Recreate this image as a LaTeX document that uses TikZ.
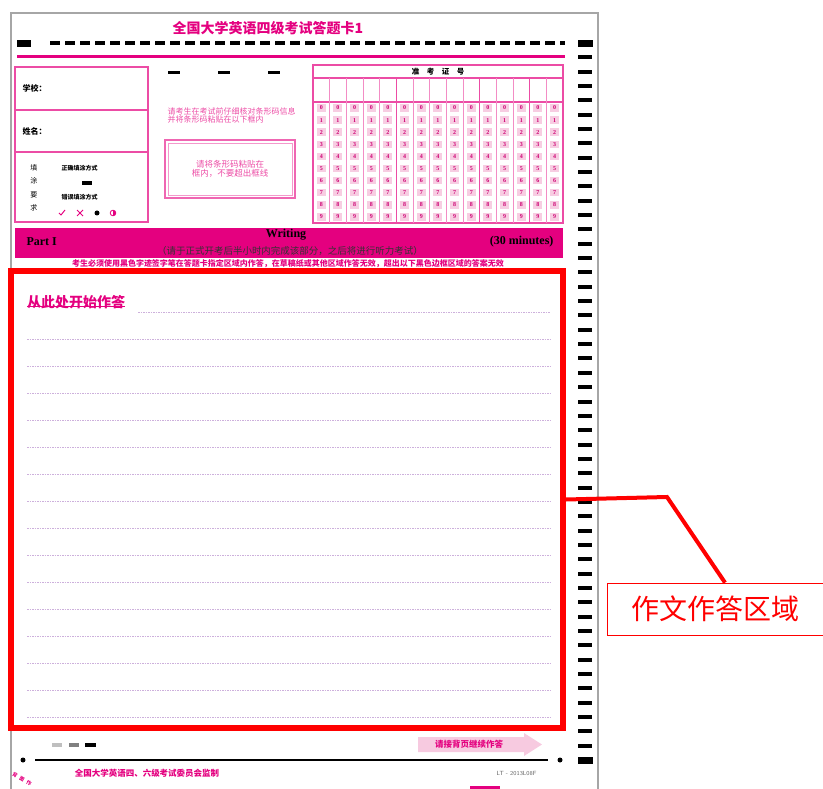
\documentclass[tikz,border=0pt]{standalone}
\usepackage{fontspec}
\setmainfont{Liberation Serif}
\newfontfamily\cjk{Noto Sans CJK SC}
\usetikzlibrary{positioning}
\definecolor{cetpink}{HTML}{E4007F}
\definecolor{lightpink}{HTML}{F4B8D6}
\definecolor{linelilac}{HTML}{CDB0DC}
\definecolor{markred}{HTML}{FF0000}
\tikzset{
  pinkbox/.style={draw=cetpink!70, line width=1.2pt},
  cjktext/.style={font=\cjk\fontsize{#1}{#1}\selectfont},
  bubble/.style={fill=lightpink!70, inner sep=0pt, minimum width=9pt, minimum height=7.5pt,
    text=cetpink!90!black, font=\fontsize{6}{6}\selectfont\bfseries},
  writeline/.style={linelilac, line width=0.8pt, dash pattern=on 1.5pt off 1pt},
}
\begin{document}
\begin{tikzpicture}[x=1pt,y=-1pt]
    \useasboundingbox (0,0) rectangle (823,789);
    % sheet
    \draw[gray!70, line width=2pt] (11,789) -- (11,13) -- (598,13) -- (598,789);
    \node[cjktext=14, text=cetpink] (title) at (268,28) {\bfseries 全国大学英语四级考试答题卡1};
    \fill (17,40) rectangle (31,47);
    \draw[line width=4pt, dash pattern=on 10pt off 5pt] (50,43) -- (565,43);
    \draw[cetpink, line width=3pt] (17,57) -- (565,57);
    % timing marks
    \fill (578,40) rectangle (593,47);
    \foreach \i in {1,...,49}
        \fill (578,{43+\i*14.34-2}) rectangle (592,{43+\i*14.34+2});
    \fill (578,757) rectangle (593,764);

    % school / name box
    \draw[pinkbox] (15,67) rectangle (148,222);
    \draw[pinkbox] (15,110) -- (148,110) (15,152) -- (148,152);
    \node[cjktext=8, anchor=west] (school) at (19,88) {\bfseries 学校：};
    \node[cjktext=8, anchor=west] (name) at (19,131) {\bfseries 姓名：};
    \foreach \ch [count=\k] in {填,涂,要,求}
        \node[cjktext=7] (req\k) at (34,{154+\k*13.5}) {\ch};
    \node[cjktext=6, anchor=west] (good) at (58,168) {\bfseries 正确填涂方式};
    \fill (82,181) rectangle (92,185);
    \node[cjktext=6, anchor=west] (bad) at (58,197) {\bfseries 错误填涂方式};
    \draw[cetpink, line width=1pt] (59,213) -- (61,215) -- (65,210);
    \draw[cetpink, line width=1pt] (77,210) -- (83,216) (77,216) -- (83,210);
    \fill (97,213) circle (2.5pt);
    \draw[cetpink, line width=0.8pt] (113,213) circle (2.8pt);
    \fill[cetpink] (113,210.2) arc (90:-90:2.8pt) -- cycle;

    % barcode area
    \foreach \x in {168,218,268}
        \draw[line width=3pt] (\x,73) -- ++(12,0);
    \node[cjktext=8, text=cetpink!70, anchor=west, align=left] (hint) at (164,115)
        {请考生在考试前仔细核对条形码信息\\并将条形码粘贴在以下框内};
    \draw[cetpink!60, line width=1.5pt] (165,140) rectangle (295,198);
    \draw[cetpink!40, line width=0.6pt] (168,143) rectangle (292,195);
    \node[cjktext=8.5, text=cetpink!70, align=center] (barcode) at (230,169)
        {请将条形码粘贴在\\框内，不要超出框线};

    % admission number grid
    \draw[pinkbox] (313,65) rectangle (563,223);
    \draw[pinkbox] (313,78) -- (563,78) (313,102) -- (563,102);
    \node[cjktext=7.5] (ticket) at (438,71.5) {\bfseries 准\quad 考\quad 证\quad 号};
    \foreach \c in {1,...,14}
        \draw[cetpink!45, line width=0.5pt] ({313+\c*16.667},78) -- ({313+\c*16.667},223);
    \foreach \c in {5,10,13}
        \draw[cetpink!70, line width=1.2pt] ({313+\c*16.667},78) -- ({313+\c*16.667},223);
    \foreach \c in {0,...,14}
        \foreach \r in {0,...,9}
            \node[bubble] (b\c-\r) at ({321.3+\c*16.667},{108+\r*12.1}) {\r};

    % Part I bar
    \fill[cetpink] (15,228) rectangle (563,258);
    \node[anchor=west, font=\bfseries\fontsize{12}{12}\selectfont] (part) at (23,242) {Part I};
    \node[font=\bfseries\fontsize{12}{12}\selectfont] (writing) at (286,235) {Writing};
    \node[cjktext=9.5, text=black!80] (note) at (290,250.5)
        {（请于正式开考后半小时内完成该部分，之后将进行听力考试）};
    \node[anchor=east, font=\bfseries\fontsize{12}{12}\selectfont] (time) at (557,242) {(30 minutes)};
    \node[cjktext=8, text=cetpink] (rule) at (288,264)
        {\bfseries 考生必须使用黑色字迹签字笔在答题卡指定区域内作答，在草稿纸或其他区域作答无效，超出以下黑色边框区域的答案无效};

    % writing area
    \node[cjktext=14, text=cetpink, anchor=west, inner sep=0pt] (start) at (27,302) {\bfseries 从此处开始作答};
    \draw[cetpink, line width=1pt] ([yshift=2pt]start.south west) -- ([yshift=2pt]start.south east);
    \draw[writeline] (138,312) -- (550,312);
    \foreach \k in {1,...,15}
        \draw[writeline] (27,{312+\k*27}) -- (550,{312+\k*27});
    \node[draw=markred, line width=6pt, minimum width=552pt, minimum height=457pt, inner sep=0pt] (area) at (287,499.5) {};

    % foot of the sheet
    \draw[line width=3.5pt, black!25] (52,745) -- ++(10,0);
    \draw[line width=3.5pt, black!50] (69,745) -- ++(10,0);
    \draw[line width=3.5pt] (85,745) -- ++(11,0);
    \fill[lightpink!75] (418,737) -- (524,737) -- (524,733) -- (542,744.5) -- (524,756) -- (524,752) -- (418,752) -- cycle;
    \node[cjktext=8.5, text=cetpink] (goon) at (469,744.5) {\bfseries 请接背页继续作答};
    \fill (23,760) circle (2.5pt);
    \draw[line width=1.5pt] (35,760) -- (548,760);
    \fill (560,760) circle (2.5pt);
    \node[cjktext=8.5, text=cetpink] (maker) at (147,773) {\bfseries 全国大学英语四、六级考试委员会监制};
    \node[font=\sffamily\fontsize{6}{6}\selectfont, text=black!60, anchor=east] (code) at (540,773) {LT - 2013L08F};
    \foreach \ch [count=\k] in {背,面,作}
        \node[cjktext=5, text=cetpink, rotate=-30, inner sep=0pt] (corner\k) at ({8+\k*7},{771+\k*4}) {\bfseries\ch};
    \fill[cetpink] (470,786) rectangle (500,789);

    % callout
    \coordinate (bend) at (667,497);
    \node[draw=markred, line width=0.8pt, minimum width=216pt, minimum height=52pt, inner sep=0pt,
        cjktext=28, text=markred] (label) at (715,609) {作文作答区域};
    \draw[markred, line width=4pt] (area.east) -- (bend) -- ([xshift=10pt]label.north);
\end{tikzpicture}
\end{document}
